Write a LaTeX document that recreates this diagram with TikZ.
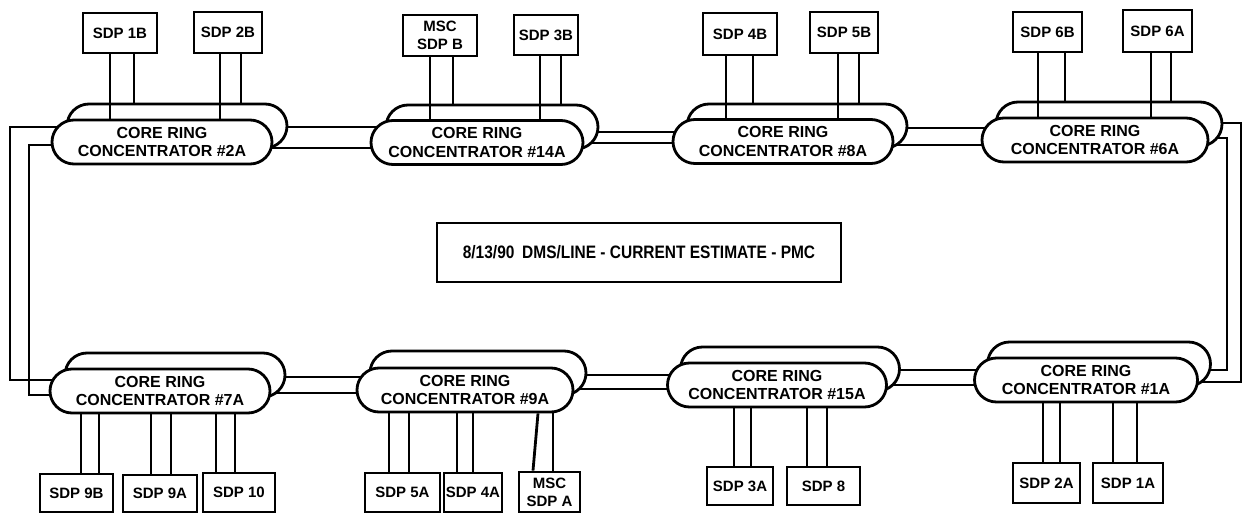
\documentclass[tikz,border=0pt]{standalone}
\usepackage{fontspec}
\setmainfont{Liberation Sans}
\usetikzlibrary{backgrounds}
\pgfdeclarelayer{ringl}
\pgfdeclarelayer{backp}
\pgfdeclarelayer{midl}
\pgfsetlayers{ringl,backp,midl,main}
\tikzset{
  wire/.style={line width=2.8pt, line join=miter},
  pill/.style={draw, line width=2.8pt, fill=white, rounded corners=22pt, minimum height=44, inner sep=0pt,
    align=center, font=\fontsize{16}{18.5}\selectfont\bfseries},
  sdpbox/.style={draw, line width=2.8pt, fill=white, inner sep=0pt, align=center,
    font=\fontsize{15}{18}\selectfont\bfseries},
  notebox/.style={draw, line width=2.8pt, fill=white, inner sep=0pt,
    font=\fontsize{18}{20}\selectfont\bfseries}
}
\begin{document}
\begin{tikzpicture}[x=1pt,y=-1pt]
\useasboundingbox (0,0) rectangle (1248,514);
% front pills (top row)
\node[pill, minimum width=220] (c2f) at (162,142) {CORE RING\\CONCENTRATOR \#2A};
\node[pill, minimum width=212] (c14f) at (477,142.5) {CORE RING\\CONCENTRATOR \#14A};
\node[pill, minimum width=220] (c8f) at (783,141.5) {CORE RING\\CONCENTRATOR \#8A};
\node[pill, minimum width=226] (c6f) at (1095,140) {CORE RING\\CONCENTRATOR \#6A};
% front pills (bottom row)
\node[pill, minimum width=220] (c7f) at (160,391) {CORE RING\\CONCENTRATOR \#7A};
\node[pill, minimum width=216] (c9f) at (465,390) {CORE RING\\CONCENTRATOR \#9A};
\node[pill, minimum width=219] (c15f) at (777,385) {CORE RING\\CONCENTRATOR \#15A};
\node[pill, minimum width=223] (c1f) at (1086,380) {CORE RING\\CONCENTRATOR \#1A};
% back pills
\begin{pgfonlayer}{backp}
\node[pill, minimum width=220] (c2b) at (177,126) {};
\node[pill, minimum width=212] (c14b) at (492,127) {};
\node[pill, minimum width=220] (c8b) at (797,126) {};
\node[pill, minimum width=226] (c6b) at (1109,124) {};
\node[pill, minimum width=220] (c7b) at (175,375) {};
\node[pill, minimum width=216] (c9b) at (478,373) {};
\node[pill, minimum width=219] (c15b) at (790,369) {};
\node[pill, minimum width=223] (c1b) at (1099,364) {};
\end{pgfonlayer}
% SDP boxes top
\node[sdpbox, minimum width=74, minimum height=40] (s1b) at (120,33) {SDP 1B};
\node[sdpbox, minimum width=68, minimum height=41] (s2b) at (228,32.5) {SDP 2B};
\node[sdpbox, minimum width=74, minimum height=41] (smb) at (440,35.5) {MSC\\SDP B};
\node[sdpbox, minimum width=64, minimum height=40] (s3b) at (546,35) {SDP 3B};
\node[sdpbox, minimum width=74, minimum height=42] (s4b) at (740,34) {SDP 4B};
\node[sdpbox, minimum width=68, minimum height=41] (s5b) at (844,32.5) {SDP 5B};
\node[sdpbox, minimum width=69, minimum height=40] (s6b) at (1047.5,32) {SDP 6B};
\node[sdpbox, minimum width=69, minimum height=42] (s6a) at (1157.5,31) {SDP 6A};
% SDP boxes bottom
\node[sdpbox, minimum width=73, minimum height=38] (s9b) at (76.5,493) {SDP 9B};
\node[sdpbox, minimum width=74, minimum height=37] (s9a) at (160,493.5) {SDP 9A};
\node[sdpbox, minimum width=72, minimum height=39] (s10) at (239,492.5) {SDP 10};
\node[sdpbox, minimum width=75, minimum height=39] (s5a) at (402.5,492.5) {SDP 5A};
\node[sdpbox, minimum width=58, minimum height=39] (s4a) at (473,492.5) {SDP 4A};
\node[sdpbox, minimum width=61, minimum height=40] (sma) at (549.5,492) {MSC\\SDP A};
\node[sdpbox, minimum width=66, minimum height=38] (s3a) at (740,486) {SDP 3A};
\node[sdpbox, minimum width=73, minimum height=38] (s8) at (823.5,486) {SDP 8};
\node[sdpbox, minimum width=67, minimum height=40] (s2a) at (1046.5,483) {SDP 2A};
\node[sdpbox, minimum width=70, minimum height=40] (s1a) at (1128,483) {SDP 1A};
% note box
\node[notebox, minimum width=404, minimum height=59] (note) at (639,252.5) {\scalebox{0.86}[1]{8/13/90\hspace{9pt}DMS/LINE - CURRENT ESTIMATE - PMC}};
% SDP connections
\begin{pgfonlayer}{midl}
\draw[wire] (110,0 |- s1b.south) -- (110,0 |- c2f.north);
\draw[wire] (134,0 |- s1b.south) -- (134,0 |- c2b.north);
\draw[wire] (220,0 |- s2b.south) -- (220,0 |- c2f.north);
\draw[wire] (241,0 |- s2b.south) -- (241,0 |- c2b.north);
\draw[wire] (430,0 |- smb.south) -- (430,0 |- c14f.north);
\draw[wire] (453,0 |- smb.south) -- (453,0 |- c14b.north);
\draw[wire] (540,0 |- s3b.south) -- (540,0 |- c14f.north);
\draw[wire] (561,0 |- s3b.south) -- (561,0 |- c14b.north);
\draw[wire] (726,0 |- s4b.south) -- (726,0 |- c8f.north);
\draw[wire] (753,0 |- s4b.south) -- (753,0 |- c8b.north);
\draw[wire] (838,0 |- s5b.south) -- (838,0 |- c8f.north);
\draw[wire] (859,0 |- s5b.south) -- (859,0 |- c8b.north);
\draw[wire] (1038,0 |- s6b.south) -- (1038,0 |- c6f.north);
\draw[wire] (1065,0 |- s6b.south) -- (1065,0 |- c6b.north);
\draw[wire] (1151,0 |- s6a.south) -- (1151,0 |- c6f.north);
\draw[wire] (1171,0 |- s6a.south) -- (1171,0 |- c6b.north);
\draw[wire] (81,0 |- c7f.south) -- (81,0 |- s9b.north);
\draw[wire] (99,0 |- c7f.south) -- (99,0 |- s9b.north);
\draw[wire] (151,0 |- c7f.south) -- (151,0 |- s9a.north);
\draw[wire] (171,0 |- c7f.south) -- (171,0 |- s9a.north);
\draw[wire] (216,0 |- c7f.south) -- (216,0 |- s10.north);
\draw[wire] (235,0 |- c7f.south) -- (235,0 |- s10.north);
\draw[wire] (389,0 |- c9f.south) -- (389,0 |- s5a.north);
\draw[wire] (409,0 |- c9f.south) -- (409,0 |- s5a.north);
\draw[wire] (457,0 |- c9f.south) -- (457,0 |- s4a.north);
\draw[wire] (473,0 |- c9f.south) -- (473,0 |- s4a.north);
\draw[wire] (538,0 |- c9f.south) -- (533,0 |- sma.north);
\draw[wire] (553,0 |- c9f.south) -- (553,0 |- sma.north);
\draw[wire] (734,0 |- c15f.south) -- (734,0 |- s3a.north);
\draw[wire] (751,0 |- c15f.south) -- (751,0 |- s3a.north);
\draw[wire] (807,0 |- c15f.south) -- (807,0 |- s8.north);
\draw[wire] (827,0 |- c15f.south) -- (827,0 |- s8.north);
\draw[wire] (1043,0 |- c1f.south) -- (1043,0 |- s2a.north);
\draw[wire] (1060,0 |- c1f.south) -- (1060,0 |- s2a.north);
\draw[wire] (1113,0 |- c1f.south) -- (1113,0 |- s1a.north);
\draw[wire] (1137,0 |- c1f.south) -- (1137,0 |- s1a.north);
\end{pgfonlayer}
% ring lines
\begin{pgfonlayer}{ringl}
\draw[wire] (c2b.center |- 0,127) -- (10,127) -- (10,380) -- (c7b.center |- 0,380);
\draw[wire] (c2f.center |- 0,145) -- (29,145) -- (29,395) -- (c7f.center |- 0,395);
\draw[wire] (c2b.center |- 0,127) -- (c14b.center |- 0,127);
\draw[wire] (c2f.center |- 0,148) -- (c14f.center |- 0,148);
\draw[wire] (c14b.center |- 0,132) -- (c8b.center |- 0,132);
\draw[wire] (c14f.center |- 0,143) -- (c8f.center |- 0,143);
\draw[wire] (c8b.center |- 0,128) -- (c6b.center |- 0,128);
\draw[wire] (c8f.center |- 0,145) -- (c6f.center |- 0,145);
\draw[wire] (c6b.center |- 0,123) -- (1241,123) -- (1241,382) -- (c1f.center |- 0,382);
\draw[wire] (c6f.center |- 0,138) -- (1227,138) -- (1227,370) -- (c1b.center |- 0,370);
\draw[wire] (c7b.center |- 0,377) -- (c9b.center |- 0,377);
\draw[wire] (c7f.center |- 0,393) -- (c9f.center |- 0,393);
\draw[wire] (c9b.center |- 0,375) -- (c15b.center |- 0,375);
\draw[wire] (c9f.center |- 0,389) -- (c15f.center |- 0,389);
\draw[wire] (c15b.center |- 0,370) -- (c1b.center |- 0,370);
\draw[wire] (c15f.center |- 0,385) -- (c1f.center |- 0,385);
\end{pgfonlayer}
\end{tikzpicture}
\end{document}
